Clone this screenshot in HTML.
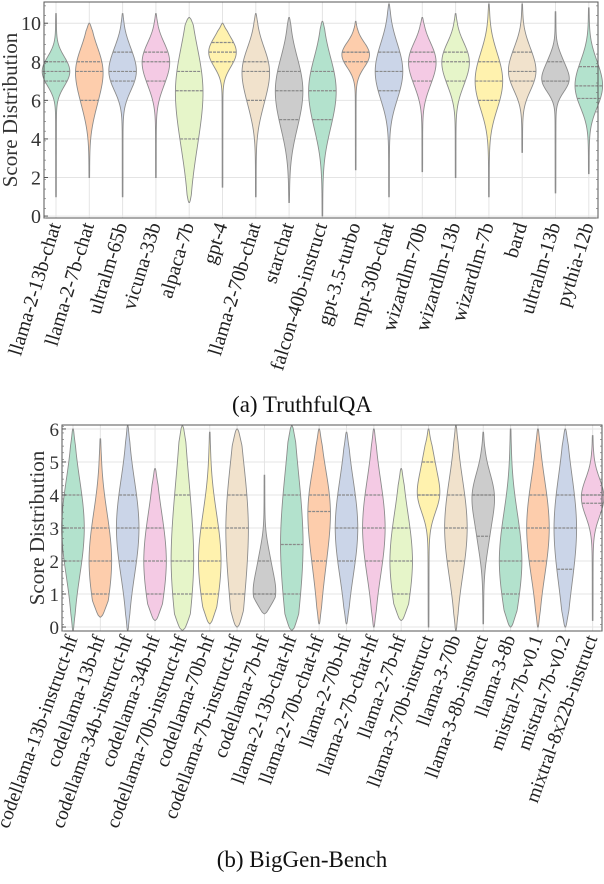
<!DOCTYPE html>
<html><head><meta charset="utf-8"><style>
html,body{margin:0;padding:0;background:#fff;}
svg{display:block;font-family:"Liberation Serif",serif;}
</style></head><body>
<svg id="svg" width="604" height="884" viewBox="0 0 604 884" xmlns="http://www.w3.org/2000/svg"></svg>
<script>
// ---------- Chart (a) TruthfulQA data ----------
const catsA = ["llama-2-13b-chat","llama-2-7b-chat","ultralm-65b","vicuna-33b","alpaca-7b","gpt-4","llama-2-70b-chat","starchat","falcon-40b-instruct","gpt-3.5-turbo","mpt-30b-chat","wizardlm-70b","wizardlm-13b","wizardlm-7b","bard","ultralm-13b","pythia-12b"];
const q1A  = [7,6,7,7,4,8,6,5,5,8,6.5,7,7,6,7,7,6.1];
const medA = [7.5,7.5,7.5,8,6.5,8.5,7.5,6.5,6.5,8.5,7.5,8,8,7,7.5,7,6.75];
const q3A  = [8,8,8.5,8.5,7.5,9,8,7.5,7.5,8.5,8.5,8.5,8.5,8,8.5,8,7.75];
const minA = [1,2,1,2,0.7,1.5,1,0.7,0,2.4,1,2.3,2,1,3.3,1.2,2.2];
const maxA = [10.5,10,10.5,10.5,10.3,10,10.5,10.3,10.1,10.1,11,10.3,10.5,11,11,10.6,10.8];
const ticksA = [0,2,4,6,8,10];
// ---------- Chart (b) BigGen-Bench data ----------
const catsB = ["codellama-13b-instruct-hf","codellama-13b-hf","codellama-34b-instruct-hf","codellama-34b-hf","codellama-70b-instruct-hf","codellama-70b-hf","codellama-7b-instruct-hf","codellama-7b-hf","llama-2-13b-chat-hf","llama-2-70b-chat-hf","llama-2-70b-hf","llama-2-7b-chat-hf","llama-2-7b-hf","llama-3-70b-instruct","llama-3-70b","llama-3-8b-instruct","llama-3-8b","mistral-7b-v0.1","mistral-7b-v0.2","mixtral-8x22b-instruct"];
const q1B  = [2,1,2,1,1,1,1,1,1,2,2,2,1,4,2,2.75,1,2,1.75,3.75];
const medB = [3,2,3,2,2,2,3,1,2.5,3.5,3,3,2,4,3,4,2,3,3,4];
const q3B  = [4,3,4,3,4,3,4,2,4,4,4,4,3,5,4,4,3,4,4,4];
const minB = [-0.1,0.3,-0.1,0.2,-0.1,0.1,0,0.4,-0.1,0.1,0.1,0,0.2,0,-0.1,0.1,0,0,0,0.2];
const maxB = [6,5.7,6.1,4.8,6.1,5.9,6,4.6,6.1,6,5.9,6,4.8,6,6.1,5.9,6,6,6,5.8];
const ticksB = [0,1,2,3,4,5,6];

const colors = ["#b3e2cd","#fdcdac","#cbd5e8","#f4cae4","#e6f5c9","#fff2ae","#f1e2cc","#cccccc"];
const NS = "http://www.w3.org/2000/svg";
const svg = document.getElementById('svg');
function mk(tag, attrs, parent){const e=document.createElementNS(NS,tag);for(const k in attrs)e.setAttribute(k,attrs[k]);(parent||svg).appendChild(e);return e;}

function drawChart(cfg){
  const g = mk('g',{});
  
  
  const {L,R,T,B,ymin,ymax,x0,dx,hw} = cfg;
  const yS = v => B - (v - ymin) / (ymax - ymin) * (B - T);
  const xS = i => x0 + i * dx;
  cfg.ticks.forEach(t=>{
    const gl=mk('line',{x1:L,x2:R,y1:yS(t),y2:yS(t),stroke:"#e4e4e4","stroke-width":1},g);
    
    
  });
  cfg.cats.forEach((c,i)=>{
    const gl=mk('line',{x1:xS(i),x2:xS(i),y1:T,y2:B,stroke:"#e4e4e4","stroke-width":1},g);
    
    
  });
  cfg.cats.forEach((c,i)=>{
    const q1=cfg.q1[i],md=cfg.med[i],q3=cfg.q3[i],mn=cfg.min[i],mx=cfg.max[i];
    const s=Math.max((q3-q1)*0.55,cfg.smin);
    const dens=v=>{
      let d=Math.exp(-((v-q1)**2)/(2*s*s))+1.3*Math.exp(-((v-md)**2)/(2*s*s))+Math.exp(-((v-q3)**2)/(2*s*s));
      d+=cfg.tail*Math.exp(-Math.abs(v-md)/((mx-mn)*0.35));
      const e=Math.min(1,(v-mn)/(cfg.taper),(mx-v)/(cfg.taper));
      return d*Math.max(0,Math.sqrt(Math.max(0,e)));
    };
    const N=100;let pts=[];let dmax=0;
    for(let k=0;k<=N;k++){const v=mn+(mx-mn)*k/N;const d=dens(v);pts.push([v,d]);if(d>dmax)dmax=d;}
    const cx=xS(i);
    let p="";
    pts.forEach(([v,d],k)=>{p+=(k?"L":"M")+(cx+d/dmax*hw+0.3).toFixed(2)+","+yS(v).toFixed(2);});
    for(let k=pts.length-1;k>=0;k--){const [v,d]=pts[k];p+="L"+(cx-d/dmax*hw-0.3).toFixed(2)+","+yS(v).toFixed(2);}
    p+="Z";
    const vp=mk('path',{d:p,fill:colors[i%8],stroke:"#8c8c8c","stroke-width":0.9},g);
    
    
    [q1,md,q3].forEach(q=>{
      const w=dens(q)/dmax*hw;
      const ql=mk('line',{x1:cx-w,x2:cx+w,y1:yS(q),y2:yS(q),stroke:"#8a8a8a","stroke-width":1.2,"stroke-dasharray":"3,1"},g);
      
      
    });
    const lx=cx+5, ly=B+7;
    const tl=mk('text',{x:lx,y:ly,"font-size":cfg.lfs,"text-anchor":"end",fill:"#222",transform:`rotate(${cfg.rot},${lx},${ly})`},g);
    tl.textContent=c;
    
    
  });
  const fr=mk('rect',{x:L,y:T,width:R-L,height:B-T,fill:"none",stroke:"#555","stroke-width":1},g);
  
  
  cfg.ticks.forEach(t=>{
    mk('line',{x1:L,x2:L+4,y1:yS(t),y2:yS(t),stroke:"#555","stroke-width":1},g);
    const tt=mk('text',{x:L-3,y:yS(t)+7,"font-size":cfg.tfs,"text-anchor":"end",fill:"#333"},g);
    tt.textContent=t;
    
    
  });
  for(let v=ymin;v<=ymax;v+=cfg.minor){
    mk('line',{x1:L,x2:L+2,y1:yS(v),y2:yS(v),stroke:"#777","stroke-width":0.7},g);
    mk('line',{x1:R,x2:R-2,y1:yS(v),y2:yS(v),stroke:"#777","stroke-width":0.7},g);
  }
  const yl=mk('text',{x:cfg.ylx,y:(T+B)/2,"font-size":cfg.yfs,"text-anchor":"middle",fill:"#333",transform:`rotate(-90,${cfg.ylx},${(T+B)/2})`},g);
  yl.textContent="Score Distribution";
  
  
  const cap=mk('text',{x:cfg.capx,y:cfg.capy,"font-size":23,"text-anchor":"middle",fill:"#111"},g);
  cap.textContent=cfg.caption;
  
  
}

drawChart({name:"truthfulqa-chart",cats:catsA,q1:q1A,med:medA,q3:q3A,min:minA,max:maxA,ticks:ticksA,
  L:44,R:598,T:2,B:218,ymin:-0.1,ymax:11.1,x0:56,dx:33.3,hw:13.5,smin:0.6,taper:0.4,tail:0.05,
  lfs:20,tfs:20,yfs:21,rot:-73,minor:0.5,ylx:17,caption:"(a) TruthfulQA",capx:302,capy:412});
drawChart({name:"biggen-bench-chart",cats:catsB,q1:q1B,med:medB,q3:q3B,min:minB,max:maxB,ticks:ticksB,
  L:62,R:602,T:425,B:631,ymin:-0.12,ymax:6.12,x0:73,dx:27.35,hw:11,smin:0.55,taper:0.5,tail:0.12,
  lfs:19.5,tfs:19,yfs:21,rot:-70,minor:0.2,ylx:44,caption:"(b) BigGen-Bench",capx:302,capy:867});
</script>
</body></html>
